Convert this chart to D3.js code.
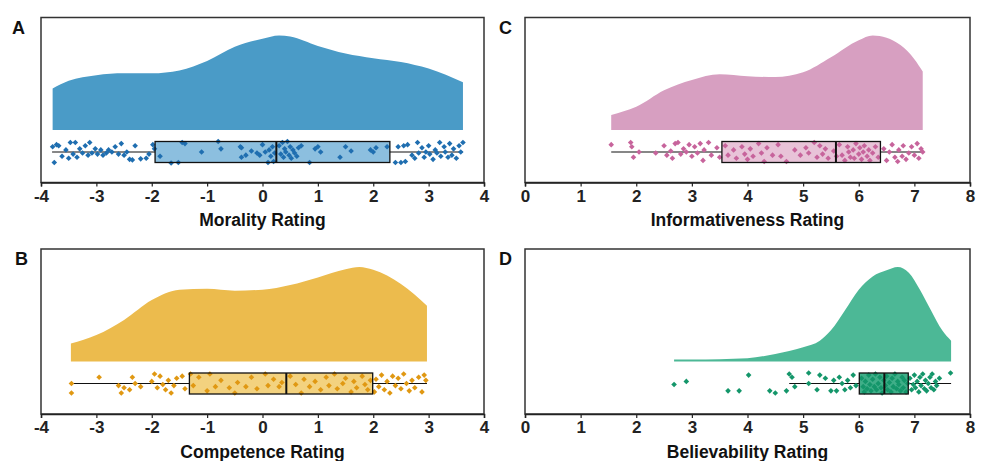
<!DOCTYPE html>
<html>
<head>
<meta charset="utf-8">
<script src="https://cdn.jsdelivr.net/npm/d3@7"></script>
<style>
  body { margin: 0; background: #fff; }
  svg text { font-family: "Liberation Sans", Arial, sans-serif; }
</style>
</head>
<body>
<svg id="chart" width="982" height="461"></svg>
<script>
// ---- data ----
const panelLetters = ["A", "B", "C", "D"];
const axisTitles = ["Morality Rating", "Competence Rating", "Informativeness Rating", "Believability Rating"];
const domains = [[-4, 4], [-4, 4], [0, 8], [0, 8]];
const tickValues = [
  [-4, -3, -2, -1, 0, 1, 2, 3, 4],
  [-4, -3, -2, -1, 0, 1, 2, 3, 4],
  [0, 1, 2, 3, 4, 5, 6, 7, 8],
  [0, 1, 2, 3, 4, 5, 6, 7, 8]
];

// density curves: [rating, relative height]
const moralityDensity = [[-3.79, 0.44], [-3.5, 0.52], [-3, 0.58], [-2.5, 0.6], [-2, 0.6], [-1.5, 0.63], [-1, 0.73],
  [-0.5, 0.88], [0, 0.965], [0.3, 1.0], [0.5, 0.99], [1, 0.89], [1.5, 0.81], [2, 0.76], [2.5, 0.72], [3, 0.65], [3.62, 0.505]];
const competenceDensity = [[-3.46, 0.19], [-3, 0.28], [-2.5, 0.44], [-2, 0.65], [-1.5, 0.76], [-1, 0.77], [-0.5, 0.75],
  [0, 0.76], [0.5, 0.81], [1, 0.89], [1.5, 0.975], [1.75, 1.0], [2, 0.97], [2.5, 0.82], [2.97, 0.59]];
const informativenessDensity = [[1.55, 0.16], [2, 0.245], [2.5, 0.42], [3, 0.53], [3.5, 0.59], [4, 0.57], [4.5, 0.56],
  [5, 0.61], [5.5, 0.77], [6, 0.95], [6.25, 1.0], [6.5, 0.975], [7, 0.75], [7.15, 0.62]];
const believabilityDensity = [[2.68, 0.02], [3, 0.02], [3.5, 0.025], [4, 0.035], [4.5, 0.08], [5, 0.15], [5.3, 0.22],
  [5.5, 0.33], [5.75, 0.54], [6, 0.76], [6.25, 0.9], [6.5, 0.965], [6.7, 1.0], [6.9, 0.94], [7.1, 0.76], [7.3, 0.54],
  [7.5, 0.33], [7.66, 0.22]];

// box stats: [lower whisker, q1, median, q3, upper whisker]
const moralityBox = [-3.8, -1.94, 0.25, 2.3, 3.62];
const competenceBox = [-3.46, -1.32, 0.43, 1.99, 2.97];
const informativenessBox = [1.55, 3.54, 5.59, 6.39, 7.15];
const believabilityBox = [4.75, 6.01, 6.46, 6.89, 7.66];

// individual ratings: [rating, vertical jitter]
const moralityPoints = [[-3.79,-0.5],[-3.76,1.0],[-3.72,-0.7],[-3.68,-0.6],[-3.62,0.4],[-3.55,-0.2],[-3.5,0.6],[-3.47,-0.9],
  [-3.42,0.2],[-3.38,-0.9],[-3.35,0.5],[-3.3,-0.3],[-3.25,0.1],[-3.2,-0.6],[-3.15,0.3],[-3.12,-0.9],[-3.08,0.1],[-3.02,-0.3],
  [-2.98,0.2],[-2.92,-0.2],[-2.88,0.3],[-2.82,0.1],[-2.78,-0.2],[-2.72,0.0],[-2.66,-0.5],[-2.6,0.2],[-2.55,-0.8],[-2.5,0.3],
  [-2.45,0.0],[-2.4,0.7],[-2.35,0.75],[-2.3,-0.6],[-2.2,0.65],[-2.1,0.6],[-2.05,0.2],[-1.98,-0.7],[-1.95,-0.3],
  [-1.85,0.4],[-1.65,1.05],[-1.52,1.0],[-1.45,-0.9],[-1.4,-0.8],[-1.1,0.0],[-0.8,-1.0],[-0.75,-0.3],[-0.4,-0.5],[-0.38,-0.4],
  [-0.38,0.5],[-0.3,0.3],[-0.2,-0.1],[-0.1,0.1],[-0.05,0.3],[0.0,-0.7],[0.05,0.0],[0.1,1.0],[0.12,-0.2],[0.15,0.4],[0.18,-0.5],
  [0.2,0.9],[0.22,0.1],[0.3,-0.6],[0.33,0.2],[0.36,-0.9],[0.38,0.5],[0.4,-0.3],[0.42,0.0],[0.45,-1.0],[0.48,0.3],[0.5,-0.5],
  [0.52,0.6],[0.55,-0.2],[0.58,0.1],[0.62,0.4],[0.65,-0.4],[0.7,-0.6],[0.85,1.0],[0.95,-0.3],[1.0,-0.5],[1.05,0.0],[1.4,0.5],
  [1.5,-0.5],[1.6,-0.1],[1.95,-0.2],[2.0,0.0],[2.05,-0.4],[2.25,-0.5],
  [2.4,1.0],[2.45,-0.5],[2.5,1.0],[2.55,-0.6],[2.58,0.9],[2.62,-0.7],[2.7,0.3],[2.75,0.6],[2.8,-0.9],[2.82,0.1],[2.88,-0.4],
  [2.92,0.5],[2.95,0.0],[3.0,-0.6],[3.02,0.2],[3.08,0.7],[3.12,-0.2],[3.15,0.1],[3.2,-0.9],[3.22,0.4],[3.28,-0.5],[3.3,0.0],
  [3.35,0.5],[3.38,-0.8],[3.42,0.3],[3.45,-0.3],[3.5,0.6],[3.55,-0.6],[3.58,0.0],[3.62,-0.9]];
const competencePoints = [[-3.45,0.0],[-3.45,0.9],[-2.95,-0.6],[-2.6,0.2],[-2.55,0.9],[-2.5,0.4],[-2.4,0.6],[-2.35,-0.6],
  [-2.3,0.0],[-2.2,0.3],[-2.0,-0.2],[-1.95,-0.9],[-1.9,0.4],[-1.85,-0.7],[-1.8,0.1],[-1.75,0.6],[-1.7,-0.3],[-1.65,0.9],
  [-1.6,0.2],[-1.55,-0.5],[-1.45,-0.7],[-1.4,0.5],
  [-1.3,-0.9],[-1.25,0.2],[-1.15,-0.6],[-1.0,0.7],[-0.95,-0.9],[-0.85,0.3],[-0.75,-0.3],[-0.6,0.4],[-0.5,0.9],[-0.45,-0.1],
  [-0.3,0.3],[-0.2,-0.6],[-0.1,0.5],[0.05,-0.9],[0.1,0.2],[0.2,-0.4],[0.3,0.3],[0.35,-0.1],[0.5,-0.7],[0.6,0.1],[0.7,0.9],
  [0.75,-0.4],[0.85,0.3],[0.95,-0.2],[1.05,0.6],[1.15,-0.6],[1.2,0.2],[1.3,-0.9],[1.35,0.5],[1.45,0.0],[1.5,-0.5],[1.6,0.8],
  [1.65,-0.2],[1.7,0.4],[1.8,-0.7],[1.85,0.1],[1.9,0.6],[1.95,-0.3],
  [2.02,0.8],[2.05,-0.4],[2.1,0.3],[2.15,-0.8],[2.2,0.6],[2.25,-0.2],[2.3,0.9],[2.35,-0.7],[2.4,0.2],[2.45,-0.5],[2.5,0.5],
  [2.55,-0.9],[2.6,0.0],[2.65,0.7],[2.7,-0.3],[2.75,0.4],[2.82,-0.6],[2.88,0.8],[2.92,-0.8],[2.95,-0.3]];
const informativenessPoints = [[1.55,-0.7],[1.9,-0.9],[1.92,-0.5],[1.95,0.5],[2.05,0.0],[2.35,0.1],[2.5,-0.6],[2.55,0.3],
  [2.62,-0.1],[2.65,0.6],[2.7,-0.8],[2.75,-0.9],[2.8,0.2],[2.85,-0.3],[2.9,0.0],[2.95,-0.7],[3.0,0.4],[3.05,-0.5],[3.1,0.1],
  [3.15,-0.8],[3.2,0.8],[3.22,-0.2],[3.3,-0.9],[3.35,0.3],[3.45,-0.4],[3.5,0.5],
  [3.6,-0.6],[3.65,0.3],[3.75,-0.2],[3.8,0.6],[3.9,-0.5],[3.95,0.2],[4.0,0.7],[4.05,-0.3],[4.1,0.4],[4.2,-0.8],[4.25,0.1],
  [4.3,0.9],[4.35,-0.4],[4.45,0.3],[4.55,-0.7],[4.6,0.4],[4.7,0.9],[4.85,-0.2],[4.95,0.3],[5.05,-0.4],[5.1,0.1],[5.2,-0.9],
  [5.25,0.5],[5.3,-0.6],[5.35,0.2],[5.4,-0.3],[5.45,0.6],[5.55,-0.1],[5.6,0.4],[5.65,-0.7],[5.7,0.3],[5.75,0.8],[5.8,-0.5],
  [5.82,0.0],[5.85,0.5],[5.9,-0.2],[5.92,0.6],[5.95,-0.8],[6.0,0.2],[6.02,-0.4],[6.05,0.7],[6.08,0.0],[6.1,-0.6],[6.15,0.4],
  [6.18,-0.2],[6.2,0.8],[6.25,0.1],[6.3,-0.5],[6.35,0.5],
  [6.45,-0.3],[6.5,0.8],[6.55,0.0],[6.6,-0.7],[6.65,0.5],[6.7,0.9],[6.72,-0.2],[6.78,0.4],[6.8,-0.6],[6.85,0.7],[6.9,0.1],
  [6.95,-0.5],[7.0,0.3],[7.05,-0.8],[7.08,0.6],[7.12,-0.3],[7.15,0.0]];
const believabilityPoints = [[2.68,0.1],[2.9,-0.2],[3.65,0.7],[3.85,0.7],[4.02,-0.8],[4.4,0.7],[4.5,0.9],[4.7,0.7],[4.75,-0.9],
  [4.8,-0.6],[4.85,0.3],[5.1,-1.0],[5.1,0.0],[5.25,0.6],[5.3,-0.8],[5.4,-0.5],[5.5,0.7],[5.55,-0.3],[5.6,0.7],[5.65,-0.6],
  [5.7,0.0],[5.75,0.6],[5.8,-0.3],[5.85,0.4],[5.9,-0.8],[5.95,0.2],
  [6.05,-0.5],[6.08,0.3],[6.1,0.8],[6.12,-0.2],[6.15,0.5],[6.18,-0.8],[6.2,0.1],[6.22,0.7],[6.25,-0.4],[6.28,0.3],[6.3,-0.9],
  [6.32,0.6],[6.35,0.0],[6.38,-0.6],[6.4,0.4],[6.42,0.9],[6.45,-0.3],[6.48,0.2],[6.5,-0.7],[6.52,0.6],[6.55,-0.1],[6.58,0.8],
  [6.6,-0.5],[6.62,0.3],[6.65,-0.9],[6.68,0.5],[6.7,-0.2],[6.72,0.1],[6.75,0.7],[6.78,-0.6],[6.8,0.4],[6.82,-0.3],[6.85,0.8],
  [6.88,0.0],
  [6.92,-0.5],[6.95,0.6],[6.98,0.1],[7.0,-0.8],[7.02,0.4],[7.05,-0.2],[7.08,0.8],[7.1,-0.6],[7.12,0.2],[7.15,-0.9],[7.18,0.5],
  [7.2,-0.3],[7.22,0.7],[7.25,0.0],[7.28,-0.6],[7.3,0.4],[7.32,-0.9],[7.35,0.6],[7.38,-0.2],[7.4,0.2],[7.45,-0.5],[7.65,-1.0]];

const densities = [moralityDensity, competenceDensity, informativenessDensity, believabilityDensity];
const boxes = [moralityBox, competenceBox, informativenessBox, believabilityBox];
const pointSets = [moralityPoints, competencePoints, informativenessPoints, believabilityPoints];

// colours: density fill, box fill, dots
const densityColors = ["#4a9bc7", "#ecbb4d", "#d79fc1", "#4cb896"];
const boxColors = ["#8cbfdf", "#f3d27f", "#e8c3d8", "#3fae88"];
const dotColors = ["#1f6eb0", "#e09812", "#c7649c", "#14966a"];

// ---- layout ----
const svg = d3.select("#chart");
const frames = [
  { x0: 41, x1: 484, y0: 17.5 },
  { x0: 41, x1: 484, y0: 249 },
  { x0: 525, x1: 970, y0: 17.5 },
  { x0: 525, x1: 970, y0: 249 }
];
const frameH = 165;
const letterPos = [[12, 34], [15, 265], [499, 34], [499, 265]];

frames.forEach((f, i) => {
  const g = svg.append("g");
  const x = d3.scaleLinear().domain(domains[i]).range([f.x0, f.x1]);
  const yDens = d3.scaleLinear().domain([0, 1]).range([f.y0 + 112.5, f.y0 + 18]);
  const boxMid = f.y0 + 134.5;
  const yJit = d3.scaleLinear().domain([-1, 1]).range([boxMid - 10.5, boxMid + 10.5]);

  // density
  const area = d3.area()
    .x(d => x(d[0]))
    .y0(yDens(0))
    .y1(d => yDens(d[1]))
    .curve(d3.curveMonotoneX);
  g.append("path")
    .datum(densities[i])
    .attr("d", area)
    .attr("fill", densityColors[i]);

  // whisker line
  const b = boxes[i];
  g.append("line")
    .attr("x1", x(b[0])).attr("x2", x(b[4]))
    .attr("y1", boxMid).attr("y2", boxMid)
    .attr("stroke", "#111").attr("stroke-width", 1.2);

  // box
  g.append("rect")
    .attr("x", x(b[1])).attr("width", x(b[3]) - x(b[1]))
    .attr("y", yJit(-1)).attr("height", yJit(1) - yJit(-1))
    .attr("fill", boxColors[i]);

  // dots
  g.selectAll("path.dot")
    .data(pointSets[i])
    .enter()
    .append("path")
    .attr("class", "dot")
    .attr("d", d3.symbol().type(d3.symbolDiamond2).size(20))
    .attr("transform", d => `translate(${x(d[0])},${yJit(d[1])})`)
    .attr("fill", dotColors[i]);

  // box outline and median on top
  g.append("rect")
    .attr("x", x(b[1])).attr("width", x(b[3]) - x(b[1]))
    .attr("y", yJit(-1)).attr("height", yJit(1) - yJit(-1))
    .attr("fill", "none")
    .attr("stroke", "#111").attr("stroke-width", 1.3);
  g.append("line")
    .attr("x1", x(b[2])).attr("x2", x(b[2]))
    .attr("y1", yJit(-1)).attr("y2", yJit(1))
    .attr("stroke", "#111").attr("stroke-width", 2);

  // frame
  g.append("rect")
    .attr("x", f.x0).attr("y", f.y0)
    .attr("width", f.x1 - f.x0).attr("height", frameH)
    .attr("fill", "none")
    .attr("stroke", "#333").attr("stroke-width", 1.5);

  // x axis
  const axis = g.append("g")
    .attr("transform", `translate(0,${f.y0 + frameH})`)
    .call(d3.axisBottom(x).tickValues(tickValues[i]).tickSize(4).tickFormat(d3.format("d")));
  axis.select(".domain").attr("stroke", "#222").attr("stroke-width", 1.5);
  axis.selectAll(".tick line").attr("stroke", "#222").attr("stroke-width", 1.2);
  axis.selectAll(".tick text")
    .attr("y", 7)
    .attr("fill", "#222")
    .attr("font-size", 17)
    .attr("font-weight", "bold")
    .text(d => d < 0 ? "-" + Math.abs(d) : d);

  // axis title
  g.append("text")
    .attr("x", (f.x0 + f.x1) / 2)
    .attr("y", f.y0 + frameH + 43.5)
    .attr("text-anchor", "middle")
    .attr("font-size", 17.5)
    .attr("font-weight", "bold")
    .attr("fill", "#111")
    .text(axisTitles[i]);

  // panel letter
  g.append("text")
    .attr("x", letterPos[i][0])
    .attr("y", letterPos[i][1])
    .attr("font-size", 18)
    .attr("font-weight", "bold")
    .attr("fill", "#111")
    .text(panelLetters[i]);
});
</script>
</body>
</html>
